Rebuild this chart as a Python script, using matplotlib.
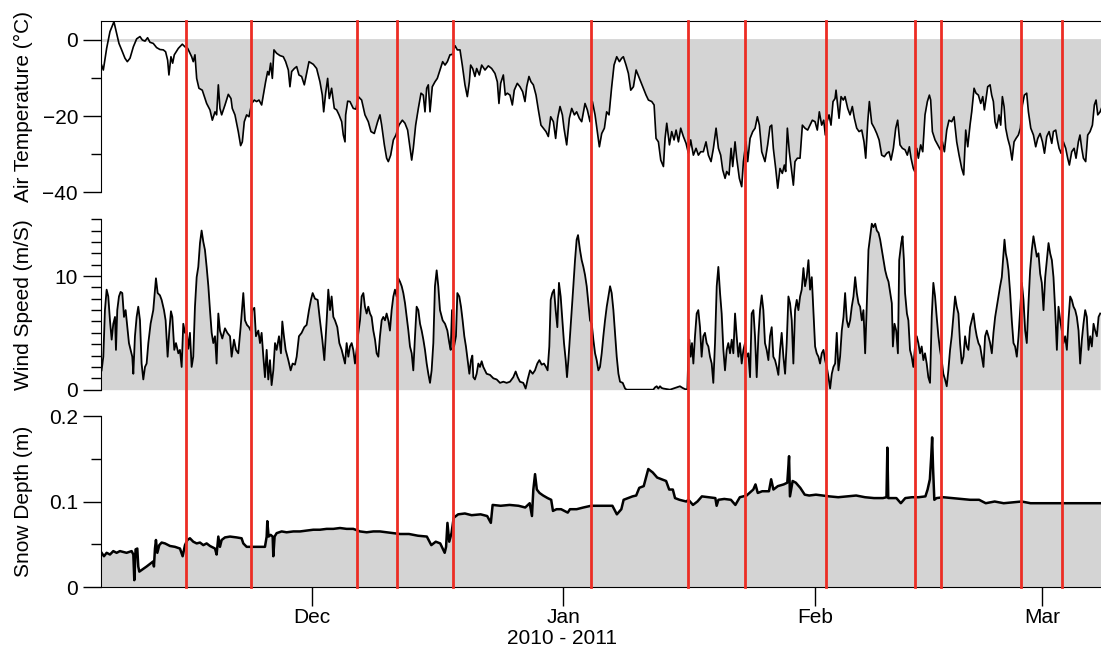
import numpy as np
import matplotlib
matplotlib.use("Agg")
import matplotlib.pyplot as plt
import matplotlib.dates as mdates
from matplotlib.lines import Line2D
from matplotlib.transforms import blended_transform_factory

plt.rcParams['font.family'] = ['Liberation Sans', 'DejaVu Sans']
plt.rcParams['font.size'] = 15

# time axis: days since 2010-11-05 00:00
t0 = np.datetime64('2010-11-05T00:00')
span_days = 123.3

# air temperature (deg C)
temp_day = [0.08, 0.29, 0.70, 1.11, 1.60, 1.93, 2.22, 2.55, 2.96, 3.25,
            3.58, 3.99, 4.40, 4.81, 5.10, 5.43, 5.75, 6.04, 6.45, 6.86,
            7.27, 7.69, 7.97, 8.22, 8.38, 8.63, 8.84, 9.04, 9.54, 10.03,
            10.36, 10.69, 11.18, 11.38, 11.59, 11.80, 12.08, 12.49, 13.03, 13.44,
            13.73, 14.06, 14.26, 14.47, 14.67, 14.88, 15.29, 15.70, 16.03, 16.19,
            16.52, 16.93, 17.22, 17.43, 17.67, 17.96, 18.25, 18.58, 18.91, 19.19,
            19.48, 19.81, 20.02, 20.30, 20.55, 20.71, 20.92, 21.13, 21.33, 21.66,
            22.07, 22.48, 22.77, 23.10, 23.30, 23.51, 23.84, 24.13, 24.41, 24.74,
            25.07, 25.36, 25.65, 26.18, 26.59, 27.00, 27.29, 27.46, 27.70, 27.95,
            28.15, 28.44, 28.77, 29.06, 29.35, 29.68, 29.88, 30.09, 30.17, 30.42,
            30.70, 31.11, 31.44, 31.73, 32.14, 32.55, 32.96, 33.29, 33.70, 34.11,
            34.40, 34.61, 34.94, 35.22, 35.43, 35.72, 36.05, 36.37, 36.74, 37.16,
            37.48, 37.81, 38.06, 38.31, 38.51, 38.80, 39.13, 39.46, 39.74, 39.95,
            40.16, 40.36, 40.57, 40.85, 41.18,
            41.47, 41.80, 42.13, 42.42, 42.71, 43.03, 43.32, 43.65, 43.94, 44.27,
            44.55, 44.88, 45.17, 45.42, 45.58, 45.83, 46.11, 46.32, 46.65, 46.94,
            47.35, 47.76, 48.17, 48.58, 48.87, 49.07, 49.28, 49.61, 49.85, 50.10,
            50.43, 50.72, 50.96, 51.33, 51.66, 51.99, 52.28, 52.49, 52.77, 53.02,
            53.31, 53.64, 53.93, 54.25, 54.54, 54.87, 55.16, 55.45, 55.78, 56.06,
            56.31, 56.60, 56.89, 57.09, 57.42, 57.75, 58.04, 58.37, 58.65, 58.98,
            59.27, 59.68, 59.97, 60.30, 60.59, 60.92, 61.20, 61.45, 61.74, 62.07,
            62.35, 62.64, 62.97, 63.26, 63.59, 63.92, 64.20, 64.41, 64.74, 65.03,
            65.32, 65.65, 65.98, 66.39, 66.80, 67.21, 67.50, 67.91, 68.20, 68.44,
            68.73, 69.02, 69.35, 69.55, 69.76, 70.09, 70.37, 70.66, 70.91, 71.20,
            71.48, 71.81, 72.14, 72.43, 72.71, 73.04, 73.37, 73.66, 73.95, 74.27,
            74.60, 74.89, 75.22, 75.51, 75.84, 76.13, 76.41, 76.66, 76.95, 77.15,
            77.44, 77.69, 77.89, 78.18, 78.38, 78.71, 79.00, 79.21, 79.53, 79.74,
            80.03, 80.36, 80.65, 80.93, 81.18, 81.47,
            81.87, 82.20, 82.49, 82.70, 82.90, 83.19, 83.44, 83.72, 84.01, 84.26,
            84.42, 84.63, 84.87, 85.16, 85.37, 85.57, 85.86, 86.19, 86.48, 86.80,
            87.13, 87.42, 87.71, 88.04, 88.32, 88.57, 88.86, 89.11, 89.31, 89.52,
            89.77, 90.01, 90.26, 90.51, 90.63, 90.83, 91.00, 91.25, 91.53, 91.74,
            92.07, 92.36, 92.64, 92.89, 93.18, 93.47, 93.80, 94.08, 94.29, 94.54,
            94.74, 95.03, 95.36, 95.65, 95.94, 96.26, 96.59, 96.88, 97.16, 97.41,
            97.70, 97.99, 98.23, 98.52, 98.81, 99.14, 99.42, 99.67, 99.88, 100.16,
            100.33, 100.58, 100.78, 101.07, 101.32, 101.60, 101.89, 102.14, 102.30, 102.51,
            102.84, 103.17, 103.50, 103.74, 103.99, 104.28, 104.56, 104.89, 105.18, 105.51,
            105.80, 106.13, 106.37, 106.62, 106.87, 107.15, 107.36, 107.65, 107.89, 108.18,
            108.47, 108.72, 108.92, 109.13, 109.33, 109.62, 109.82, 110.03, 110.23, 110.44,
            110.73, 110.93, 111.14, 111.35, 111.55, 111.80, 112.08, 112.33, 112.58, 112.82,
            113.11, 113.36, 113.61, 113.85, 114.14, 114.35, 114.64, 114.97, 115.25, 115.50,
            115.79, 116.08, 116.33, 116.61, 116.90, 117.23, 117.43, 117.72, 117.92, 118.13,
            118.37, 118.66, 118.95, 119.19, 119.40, 119.69, 119.98, 120.22, 120.51, 120.71,
            120.92, 121.13, 121.41, 121.66, 121.95, 122.24, 122.48, 122.69, 122.90, 123.19,
            123.35]
temp_c = [-6.6, -7.9, -2.2, 2.2, 4.8, 1.8, -0.9, -2.6, -4.8, -5.7,
          -4.8, -1.8, 0.3, 0.9, 0.0, -0.3, 0.6, -0.6, -0.9, -2.0,
          -2.5, -2.6, -3.1, -5.3, -9.2, -4.4, -6.1, -3.9, -2.2, -1.1,
          -1.8, -2.2, -4.4, -5.7, -3.9, -10.1, -12.7, -13.2, -16.7, -18.4,
          -21.1, -18.9, -19.7, -11.8, -18.0, -19.7, -17.1, -14.3, -15.4, -18.0,
          -19.7, -24.1, -27.8, -26.8, -21.5, -19.7, -20.2, -16.7, -15.8, -16.2,
          -15.8, -17.1, -14.5, -11.0, -8.3, -9.2, -6.1, -10.1, -2.6, -3.5,
          -4.1, -4.4, -5.7, -7.9, -12.3, -8.3, -7.5, -7.0, -9.2, -9.6,
          -11.8, -8.8, -5.7, -6.4, -7.5, -11.0, -14.5, -18.9, -14.0, -10.1,
          -15.4, -12.7, -18.0, -18.4, -19.7, -21.5, -25.0, -26.8, -19.7, -16.1,
          -16.2, -18.0, -18.2, -14.9, -15.8, -19.7, -21.5, -24.1, -24.6, -21.5,
          -19.7, -22.4, -27.6, -31.1, -32.0, -30.3, -26.3, -25.0, -22.4, -21.1,
          -21.9, -23.7, -27.6, -31.6, -28.5, -22.4, -18.0, -14.0, -14.5, -18.9,
          -12.7, -11.8, -18.9, -12.3, -11.0,
          -10.1, -7.9, -5.7, -6.6, -5.7, -3.9, -3.8, -1.5, -2.6, -2.6,
          -6.6, -11.8, -14.9, -11.0, -6.6, -7.5, -9.6, -7.5, -9.2, -6.6,
          -7.9, -6.8, -7.5, -8.8, -11.0, -16.7, -11.4, -9.2, -14.5, -14.0,
          -14.5, -17.1, -13.2, -11.4, -12.3, -13.6, -16.2, -12.3, -9.6, -11.0,
          -11.8, -14.5, -18.4, -22.4, -23.2, -24.1, -25.4, -20.2, -21.5, -25.9,
          -20.6, -17.5, -19.7, -23.2, -27.6, -20.6, -18.0, -19.7, -18.9, -20.6,
          -21.5, -16.7, -18.4, -21.5, -16.2, -19.7, -24.1, -28.1, -24.6, -23.2,
          -18.9, -19.7, -12.3, -6.6, -4.4, -5.7, -4.8, -4.4, -6.6, -8.8,
          -13.2, -12.3, -7.9, -10.1, -12.3, -14.5, -15.8, -16.2, -17.1, -25.9,
          -26.8, -31.6, -33.3, -25.9, -21.9, -27.6, -24.1, -26.3, -23.7, -26.8,
          -23.2, -25.4, -27.2, -29.8, -26.3, -30.3, -28.5, -30.3, -29.4, -29.4,
          -26.8, -30.3, -32.0, -28.5, -23.2, -28.5, -30.3, -34.2, -36.4, -34.6,
          -35.5, -28.5, -33.3, -26.8, -31.1, -36.4, -38.6, -32.0, -26.8, -32.0,
          -25.9, -24.1, -23.2, -20.2, -22.4, -29.4,
          -32.0, -27.6, -22.8, -22.4, -28.5, -33.8, -39.0, -33.8, -35.1, -32.9,
          -34.6, -23.2, -29.4, -34.6, -38.2, -32.0, -31.1, -31.1, -22.4, -23.2,
          -23.7, -22.4, -21.1, -21.5, -23.7, -18.9, -22.4, -21.1, -25.0, -21.5,
          -19.7, -22.4, -16.2, -15.4, -13.2, -17.1, -20.6, -14.9, -15.8, -14.9,
          -18.0, -19.7, -17.5, -20.6, -23.2, -24.1, -23.7, -26.8, -31.1, -21.5,
          -16.2, -21.9, -23.2, -24.6, -26.3, -30.3, -30.7, -29.8, -29.4, -31.6,
          -28.5, -23.2, -21.1, -27.6, -28.5, -28.9, -30.3, -28.1, -31.1, -33.8,
          -34.6, -28.5, -31.1, -27.6, -29.4, -19.7, -16.2, -14.5, -15.8, -24.1,
          -26.3, -27.6, -28.9, -26.8, -29.4, -23.7, -21.1, -21.5, -20.2, -26.8,
          -30.3, -33.8, -35.5, -23.7, -28.1, -22.4, -18.9, -12.7, -14.0, -14.5,
          -16.7, -14.9, -18.4, -15.4, -12.3, -11.8, -14.5, -16.2, -21.5, -23.2,
          -19.7, -22.4, -14.9, -17.5, -23.2, -25.9, -28.1, -31.6, -26.8, -25.9,
          -25.0, -23.2, -17.1, -14.5, -14.0, -18.9, -23.2, -25.0, -28.1, -25.9,
          -24.6, -26.8, -29.8, -25.4, -24.1, -27.2, -24.1, -23.7, -26.3, -28.5,
          -29.8, -26.8, -28.5, -31.1, -32.9, -29.4, -28.5, -31.1, -26.8, -25.0,
          -28.5, -31.1, -32.0, -25.0, -24.1, -22.4, -17.1, -15.8, -19.7, -18.9,
          -18.0]

# wind speed (m/s)
wind_day = [0.08, 0.29, 0.49, 0.70, 0.90, 1.11, 1.32, 1.52, 1.73, 1.85,
            2.01, 2.22, 2.42, 2.63, 2.84, 3.04, 3.25, 3.45, 3.66, 3.86,
            3.99, 4.19, 4.40, 4.60, 4.81, 5.01, 5.22, 5.43, 5.63, 5.84,
            6.12, 6.45, 6.66, 6.78, 6.99, 7.27, 7.48, 7.77, 7.97, 8.22,
            8.43, 8.63, 8.80, 9.04, 9.25, 9.54, 9.74, 9.95, 10.15, 10.36,
            10.56, 10.77, 10.97, 11.18, 11.38, 11.59, 11.80, 12.00, 12.21, 12.41,
            12.62, 12.82, 13.03, 13.24, 13.44, 13.65, 13.85, 14.06, 14.26, 14.47,
            14.67, 14.96, 15.29, 15.58, 15.91, 16.11, 16.40, 16.65, 16.93, 17.22,
            17.55, 17.76, 18.00, 18.25, 18.45, 18.66, 18.91, 19.11, 19.40, 19.61,
            19.81, 20.02, 20.22, 20.43, 20.63, 20.84, 21.04, 21.25, 21.46, 21.66,
            21.95, 22.19, 22.36, 22.56, 22.77, 23.10, 23.39, 23.63, 23.92, 24.13,
            24.41, 24.74, 25.07, 25.36, 25.65, 25.89, 26.10, 26.39, 26.72, 27.00,
            27.29, 27.54, 27.83, 28.03, 28.24, 28.44, 28.65, 28.85, 29.14, 29.39,
            29.68, 29.88, 30.09, 30.29, 30.50, 30.70, 30.91, 31.11, 31.32, 31.52,
            31.73, 31.94, 32.14, 32.35, 32.55, 32.76, 32.96, 33.17, 33.37, 33.58,
            33.79, 33.99, 34.20, 34.40, 34.61, 34.81, 35.02, 35.22, 35.43, 35.63,
            35.84, 36.05, 36.25, 36.46, 36.66, 36.87, 37.08, 37.28, 37.49, 37.69,
            37.90, 38.10, 38.31, 38.51, 38.72, 38.92, 39.13, 39.34, 39.54, 39.75,
            39.95, 40.16, 40.36, 40.57, 40.77,
            40.98, 41.18, 41.39, 41.59, 41.80, 42.13, 42.42, 42.71, 42.95, 43.12,
            43.28, 43.53, 43.77, 43.94, 44.18, 44.39, 44.59, 44.80, 45.00, 45.21,
            45.42, 45.62, 45.79, 45.91, 46.11, 46.32, 46.53, 46.73, 46.94, 47.14,
            47.35, 47.55, 47.97, 48.38, 48.79, 49.20, 49.61, 50.02, 50.43, 50.84,
            51.13, 51.38, 51.66, 52.07, 52.36, 52.61, 52.90, 53.23, 53.51, 53.80,
            54.05, 54.34, 54.62, 54.87, 55.07, 55.28, 55.45, 55.65, 55.86, 56.06,
            56.27, 56.47, 56.68, 56.89, 57.09, 57.30, 57.46, 57.63, 57.83, 58.04,
            58.24, 58.45, 58.65, 58.82, 59.06, 59.27, 59.48, 59.68, 59.89, 60.09,
            60.30, 60.51, 60.71, 60.92, 61.12, 61.33, 61.53, 61.74, 61.94, 62.15,
            62.36, 62.56, 62.77, 62.97, 63.18, 63.38, 63.59, 63.80, 64.00, 64.33,
            64.62, 64.82, 68.10, 68.31, 68.52, 68.72, 68.93, 69.13, 69.34, 69.75,
            70.16, 70.57, 70.98, 71.39, 71.72, 72.01, 72.30, 72.46, 72.54, 72.71,
            72.87, 73.04, 73.24, 73.45, 73.65, 73.86, 74.06, 74.27, 74.47, 74.68,
            74.89, 75.09, 75.30, 75.50, 75.71, 75.92, 76.12, 76.33, 76.53, 76.74,
            76.94, 77.15, 77.35, 77.56, 77.77, 77.97, 78.18, 78.38, 78.59, 78.79,
            79.00, 79.21, 79.41, 79.62, 79.82, 80.03, 80.23, 80.44, 80.64, 80.85,
            81.06, 81.26, 81.47, 81.67,
            81.87, 82.08, 82.29, 82.49, 82.70, 82.90, 83.11, 83.32, 83.52, 83.73,
            83.93, 84.14, 84.35, 84.55, 84.76, 84.96, 85.17, 85.37, 85.58, 85.79,
            85.99, 86.20, 86.40, 86.61, 86.81, 87.02, 87.23, 87.43, 87.64, 87.84,
            88.05, 88.25, 88.46, 88.66, 88.87, 89.08, 89.28, 89.49, 89.70, 89.90,
            90.11, 90.31, 90.52, 90.72, 90.93, 91.13, 91.34, 91.55, 91.75, 91.96,
            92.16, 92.37, 92.57, 92.78, 92.99, 93.19, 93.40, 93.60, 93.81, 94.01,
            94.22, 94.43, 94.63, 94.84, 95.04, 95.25, 95.46, 95.66, 95.87, 96.07,
            96.28, 96.48, 96.69, 96.90, 97.10, 97.31, 97.51, 97.64, 97.84, 98.05,
            98.26, 98.42, 98.67, 98.83, 99.00, 99.14, 99.37, 99.55, 99.75, 99.96,
            100.16, 100.37, 100.58, 100.78, 100.99, 101.19, 101.40, 101.60, 101.81, 102.01,
            102.22, 102.43, 102.63, 102.84, 103.04, 103.25, 103.45, 103.66, 103.86, 104.07,
            104.28, 104.48, 104.69, 104.89, 105.10, 105.31, 105.51, 105.72, 105.92, 106.13,
            106.34, 106.54, 106.75, 106.95, 107.16, 107.37, 107.57, 107.78, 107.98, 108.19,
            108.40, 108.60, 108.81, 109.01, 109.22, 109.42, 109.63, 109.84, 110.04, 110.25,
            110.45, 110.66, 110.86, 111.07, 111.28, 111.40, 111.56, 111.73, 111.89, 112.10,
            112.30, 112.51, 112.71, 112.92, 113.13, 113.33, 113.54, 113.74, 113.95, 114.15,
            114.36, 114.56, 114.77, 114.97, 115.18, 115.39, 115.59, 115.80, 116.00, 116.21,
            116.42, 116.62, 116.83, 117.03, 117.24, 117.44, 117.65, 117.86, 118.06, 118.27,
            118.47, 118.68, 118.88, 119.09, 119.29, 119.50, 119.70, 119.91, 120.12, 120.32,
            120.53, 120.73, 120.94, 121.14, 121.35, 121.55, 121.76, 121.97, 122.17, 122.38,
            122.58, 122.79, 123.00, 123.20]
wind_ms = [1.7, 2.9, 7.0, 8.8, 8.2, 6.1, 4.4, 5.8, 6.4, 3.5,
           7.0, 8.2, 8.6, 8.5, 6.4, 7.0, 5.5, 4.1, 3.5, 2.9,
           1.4, 4.7, 6.4, 7.3, 6.1, 2.3, 0.9, 2.0, 2.3, 4.1,
           5.8, 7.0, 8.8, 9.8, 8.5, 8.3, 7.9, 7.0, 6.1, 2.9,
           5.2, 6.9, 6.4, 3.5, 4.1, 3.2, 3.5, 2.0, 5.8, 5.0,
           5.2, 3.6, 5.0, 2.0, 2.9, 7.3, 9.9, 10.8, 12.9, 14.0,
           13.0, 12.3, 10.8, 9.1, 7.0, 5.0, 4.1, 4.7, 2.3, 6.7,
           5.2, 4.5, 5.4, 5.0, 4.7, 2.9, 4.4, 3.5, 3.2, 5.5,
           8.5, 6.1, 5.7, 5.5, 5.2, 7.0, 7.2, 4.7, 5.2, 4.1,
           5.0, 2.9, 1.1, 3.5, 0.9, 2.6, 0.4, 1.7, 4.1, 3.5,
           4.7, 3.2, 6.0, 4.7, 3.5, 2.6, 1.7, 2.3, 2.2, 2.9,
           4.7, 5.0, 5.5, 5.7, 7.0, 7.9, 8.5, 8.0, 7.9, 6.1,
           4.4, 2.6, 6.1, 8.8, 7.0, 8.2, 6.4, 6.1, 5.5, 4.1,
           3.5, 2.9, 2.3, 4.1, 2.9, 3.8, 4.1, 3.5, 2.3, 3.5,
           5.0, 6.1, 8.2, 8.5, 7.3, 6.7, 7.3, 6.7, 6.4, 5.2,
           4.4, 3.2, 2.9, 4.7, 6.1, 6.4, 6.1, 6.7, 6.1, 5.2,
           7.0, 8.2, 8.8, 8.2, 9.8, 9.5, 9.1, 8.5, 7.6, 6.4,
           5.2, 3.8, 3.2, 1.7, 4.7, 7.3, 7.0, 5.8, 5.2, 4.4,
           3.5, 2.3, 1.4, 0.6, 1.7,
           4.1, 9.1, 10.5, 9.1, 7.0, 6.1, 5.8, 5.2, 4.1, 3.5,
           7.0, 3.8, 4.7, 8.5, 8.2, 7.3, 6.1, 4.7, 3.8, 2.6,
           1.4, 2.6, 3.0, 1.1, 0.9, 1.4, 2.3, 2.0, 2.5, 2.0,
           1.7, 1.4, 1.3, 1.0, 0.9, 0.6, 0.7, 0.6, 0.7, 1.1,
           1.6, 1.1, 0.7, 0.6, 0.1, 0.9, 1.7, 1.4, 1.7, 2.3,
           2.6, 2.2, 2.3, 2.0, 1.7, 3.8, 7.9, 8.5, 8.8, 7.0,
           5.5, 9.4, 8.2, 6.1, 4.1, 2.6, 1.1, 2.6, 4.7, 7.0,
           9.1, 11.4, 13.2, 13.6, 12.3, 11.4, 10.8, 10.1, 9.1, 7.6,
           6.1, 5.8, 4.4, 3.2, 2.6, 1.7, 2.0, 3.2, 4.7, 6.1,
           7.3, 8.2, 9.1, 8.5, 7.0, 5.0, 2.9, 1.4, 0.7, 0.6,
           0.1, 0.0, 0.0, 0.2, 0.3, 0.1, 0.3, 0.15, 0.1, 0.05,
           0.0, 0.1, 0.2, 0.3, 0.15, 0.05, 0.0, 4.1, 4.4, 2.9,
           4.1, 2.3, 4.7, 6.7, 7.0, 5.5, 2.9, 4.7, 5.0, 4.1,
           3.8, 2.9, 2.3, 0.6, 4.1, 9.1, 10.8, 8.5, 6.7, 3.5,
           1.7, 3.5, 4.1, 3.2, 4.4, 3.2, 6.7, 4.7, 2.9, 4.1,
           2.3, 3.5, 4.1, 2.9, 3.2, 1.1, 6.7, 7.0, 4.7, 1.1,
           4.7, 7.0, 8.3, 7.0,
           4.1, 3.5, 2.6, 4.7, 5.5, 2.9, 2.6, 2.0, 1.3, 3.5,
           5.0, 2.9, 1.4, 4.1, 8.2, 7.6, 6.1, 2.3, 7.0, 7.9,
           7.0, 8.2, 8.8, 10.7, 9.1, 9.9, 11.4, 8.8, 9.9, 7.0,
           3.8, 3.2, 2.9, 2.3, 3.2, 3.5, 2.6, 2.0, 1.1, 0.1,
           1.4, 2.0, 2.3, 5.0, 1.7, 2.9, 5.2, 6.4, 8.5, 6.1,
           5.5, 6.1, 7.3, 8.2, 9.9, 8.5, 7.6, 7.3, 6.1, 7.0,
           3.2, 7.6, 12.3, 13.5, 14.6, 14.3, 14.6, 14.0, 13.8, 13.2,
           12.3, 11.4, 10.5, 9.9, 9.5, 8.5, 7.6, 3.8, 5.8, 5.2,
           3.2, 11.4, 12.9, 13.5, 11.4, 8.5, 6.7, 6.1, 3.5, 2.9,
           2.0, 3.8, 4.7, 4.1, 3.2, 3.8, 2.6, 3.2, 2.3, 1.1,
           0.6, 6.4, 9.4, 8.2, 6.4, 4.7, 3.5, 2.6, 1.4, 0.9,
           0.3, 1.7, 3.5, 4.7, 6.4, 8.2, 7.3, 6.7, 4.1, 2.3,
           2.9, 4.7, 3.8, 3.5, 5.5, 6.1, 6.7, 5.5, 4.7, 4.1,
           3.8, 2.9, 2.0, 4.7, 5.2, 4.7, 4.1, 3.2, 5.0, 6.4,
           7.3, 8.2, 9.1, 9.9, 12.0, 13.2, 12.0, 11.4, 10.5, 8.5,
           6.1, 4.1, 3.8, 2.9, 4.7, 7.0, 9.4, 7.9, 5.2, 4.1,
           7.6, 10.5, 12.3, 13.5, 12.6, 11.7, 12.0, 10.2, 9.4, 7.0,
           9.9, 11.4, 12.9, 12.0, 11.4, 9.9, 7.0, 3.5, 7.3, 6.1,
           5.2, 4.1, 4.7, 3.5, 6.1, 8.2, 7.9, 7.3, 7.0, 6.4,
           5.2, 2.3, 4.4, 5.8, 7.0, 6.4, 3.5, 4.7, 3.8, 5.8,
           5.2, 4.7, 6.4, 6.7]

# snow depth (m)
snow_day = [0.08, 0.37, 0.70, 1.11, 1.52, 1.93, 2.34, 3.16, 3.78, 3.99,
            4.11, 4.27, 4.48, 4.60, 4.73, 5.63, 6.45, 6.53, 6.66, 6.78,
            6.95, 7.19, 7.48, 7.89, 8.51, 9.12, 9.74, 10.07, 10.36, 10.65,
            10.97, 11.38, 11.80, 12.21, 12.62, 13.03, 13.44, 14.06, 14.26, 14.47,
            14.67, 14.88, 15.29, 15.91, 16.73, 17.34, 17.55, 17.96, 18.37, 18.99,
            19.61, 20.22, 20.43, 20.51, 20.67, 20.92, 21.17, 21.25, 21.41, 21.66,
            22.28, 22.89, 23.72, 24.54, 25.36, 26.18, 27.00, 27.83, 28.65, 29.47,
            30.29, 31.11, 31.94, 32.76, 33.58, 34.40, 35.22, 36.05, 36.87, 37.98,
            39.08, 40.18, 40.73, 41.28, 41.83, 42.38, 42.55, 42.72, 42.94, 43.22,
            43.49, 44.04, 44.87, 45.70, 46.81, 47.62, 48.07, 48.29, 49.28, 50.38,
            51.49, 52.31, 52.86, 53.14, 53.31, 53.52, 53.74, 54.07, 54.52, 55.07,
            55.51, 55.73, 56.17, 56.73, 57.55, 57.83, 58.65, 59.48, 60.42, 61.13,
            62.24, 63.06, 63.61, 64.16, 64.44, 64.99, 65.54, 65.99, 66.37, 66.92,
            67.20, 67.48, 68.03, 68.58, 69.13, 69.68, 70.06, 70.51, 70.78, 71.33,
            72.16, 72.44, 72.99, 73.54, 74.09, 74.92, 75.75, 75.91, 76.13, 76.85,
            77.67, 78.22, 78.77, 79.60, 80.43, 80.70, 80.98, 81.53, 82.36, 82.63,
            82.91, 83.46, 84.18, 84.62, 84.84, 84.95, 85.28, 85.67, 86.22, 86.77,
            87.32, 88.15, 88.97, 89.80, 90.90, 92.00, 93.11, 94.21, 95.31, 96.41,
            96.85, 96.96, 97.07, 98.07, 98.62, 99.17, 99.99, 100.82, 101.65, 101.92,
            102.20, 102.37, 102.48, 102.59, 102.75, 103.03, 103.85, 104.96, 106.06, 107.16,
            108.27, 109.09, 110.19, 111.30, 112.40, 113.51, 114.61, 115.71, 116.82, 117.92,
            119.02, 120.13, 121.23, 122.33, 123.32]
snow_m = [0.040, 0.036, 0.040, 0.038, 0.042, 0.040, 0.042, 0.040, 0.042, 0.038,
          0.008, 0.044, 0.045, 0.024, 0.018, 0.024, 0.030, 0.024, 0.045, 0.055,
          0.040, 0.049, 0.052, 0.051, 0.048, 0.047, 0.045, 0.036, 0.049, 0.055,
          0.057, 0.053, 0.051, 0.052, 0.049, 0.051, 0.048, 0.045, 0.038, 0.059,
          0.047, 0.055, 0.058, 0.059, 0.058, 0.057, 0.051, 0.047, 0.047, 0.047,
          0.047, 0.047, 0.059, 0.077, 0.059, 0.061, 0.059, 0.036, 0.059, 0.063,
          0.065, 0.064, 0.065, 0.065, 0.066, 0.067, 0.067, 0.068, 0.068, 0.069,
          0.068, 0.068, 0.065, 0.064, 0.065, 0.065, 0.064, 0.063, 0.062, 0.062,
          0.060, 0.059, 0.049, 0.053, 0.051, 0.040, 0.047, 0.075, 0.053, 0.063,
          0.081, 0.085, 0.086, 0.084, 0.085, 0.083, 0.075, 0.096, 0.095, 0.096,
          0.095, 0.093, 0.098, 0.083, 0.114, 0.132, 0.114, 0.110, 0.107, 0.104,
          0.102, 0.089, 0.091, 0.091, 0.087, 0.091, 0.091, 0.093, 0.095, 0.095,
          0.095, 0.095, 0.085, 0.091, 0.102, 0.104, 0.106, 0.107, 0.116, 0.118,
          0.128, 0.138, 0.134, 0.128, 0.126, 0.124, 0.114, 0.114, 0.104, 0.102,
          0.100, 0.102, 0.096, 0.100, 0.106, 0.105, 0.104, 0.095, 0.102, 0.103,
          0.102, 0.096, 0.105, 0.107, 0.114, 0.120, 0.110, 0.112, 0.112, 0.126,
          0.114, 0.118, 0.120, 0.122, 0.153, 0.106, 0.124, 0.122, 0.116, 0.108,
          0.107, 0.108, 0.107, 0.106, 0.105, 0.106, 0.107, 0.105, 0.104, 0.104,
          0.105, 0.163, 0.104, 0.104, 0.098, 0.104, 0.105, 0.105, 0.106, 0.114,
          0.126, 0.153, 0.175, 0.140, 0.102, 0.104, 0.105, 0.104, 0.103, 0.102,
          0.102, 0.098, 0.100, 0.098, 0.099, 0.100, 0.098, 0.098, 0.098, 0.098,
          0.098, 0.098, 0.098, 0.098, 0.098]

# marked events
event_times = ['2010-11-15T11:30', '2010-11-23T12:00', '2010-12-06T13:40',
               '2010-12-11T12:00', '2010-12-18T09:40', '2011-01-04T10:00',
               '2011-01-16T09:00', '2011-01-23T10:00', '2011-02-02T09:30',
               '2011-02-13T09:00', '2011-02-16T14:00', '2011-02-26T10:30',
               '2011-03-03T12:00']


def to_time(days):
    return t0 + np.round(np.asarray(days) * 1440).astype('timedelta64[m]')


fill_grey = '#d4d4d4'
red = '#ec2d24'

fig = plt.figure(figsize=(11.01, 6.5), dpi=100)
left, width = 0.0917, 0.9083
ax_t = fig.add_axes([left, 0.7046, width, 0.2631])
ax_w = fig.add_axes([left, 0.4005, width, 0.2623], sharex=ax_t)
ax_s = fig.add_axes([left, 0.0969, width, 0.2631], sharex=ax_t)

# temperature, shaded below zero from the first event onward
tt = to_time(temp_day)
tc = np.array(temp_c)
start = np.datetime64(event_times[0]) - np.timedelta64(3, 'h')
mask = tt >= start
ax_t.axhline(0, color=fill_grey, lw=2, zorder=1)
ax_t.fill_between(tt[mask], tc[mask], 0, color=fill_grey, lw=0, zorder=1)
ax_t.plot(tt, tc, color='k', lw=1.2, zorder=3)
ax_t.set_ylim(-40, 5)
ax_t.set_yticks([-40, -20, 0])
ax_t.set_yticks([-30, -10], minor=True)
ax_t.set_ylabel('Air Temperature (°C)')

tw = to_time(wind_day)
ax_w.fill_between(tw, wind_ms, 0, color=fill_grey, lw=0)
ax_w.plot(tw, wind_ms, color='k', lw=1.3)
ax_w.set_ylim(0, 15)
ax_w.set_yticks([0, 10])
ax_w.set_yticks(np.arange(0, 16), minor=True)
ax_w.set_ylabel('Wind Speed (m/S)')

ts = to_time(snow_day)
ax_s.fill_between(ts, snow_m, 0, color=fill_grey, lw=0)
ax_s.plot(ts, snow_m, color='k', lw=1.8)
ax_s.set_ylim(0, 0.2)
ax_s.set_yticks([0, 0.1, 0.2])
ax_s.set_yticklabels(['0', '0.1', '0.2'])
ax_s.set_yticks([0.05, 0.15], minor=True)
ax_s.set_ylabel('Snow Depth (m)')

ax_s.set_xlim(t0, to_time(span_days))
ax_s.xaxis.set_major_locator(mdates.MonthLocator())
ax_s.xaxis.set_major_formatter(mdates.DateFormatter('%b'))
ax_s.set_xlabel('2010 - 2011')
ax_s.xaxis.set_label_coords(0.461, -0.245)
ax_s.tick_params(axis='x', which='major', length=14, width=1, pad=1,
                 labelsize=15)

for ax in (ax_t, ax_w, ax_s):
    ax.spines['right'].set_visible(False)
    ax.tick_params(axis='y', which='major', length=13, width=1, pad=3.5,
                   labelsize=15)
    ax.tick_params(axis='y', which='minor', length=7, width=1)
    ax.yaxis.set_label_coords(-0.068, 0.5)
ax_t.spines['bottom'].set_visible(False)
ax_w.spines['bottom'].set_visible(False)
ax_w.spines['top'].set_visible(False)
ax_s.spines['top'].set_visible(False)
for ax in (ax_t, ax_w):
    ax.tick_params(axis='x', which='both', bottom=False, labelbottom=False)

# event markers run through all three panels
trans = blended_transform_factory(ax_s.transData, fig.transFigure)
for ev in event_times:
    x = mdates.date2num(np.datetime64(ev))
    fig.add_artist(Line2D([x, x], [0.0969, 0.9677], transform=trans,
                          color=red, lw=2.0, zorder=5))

fig.savefig('out.png', dpi=100)
